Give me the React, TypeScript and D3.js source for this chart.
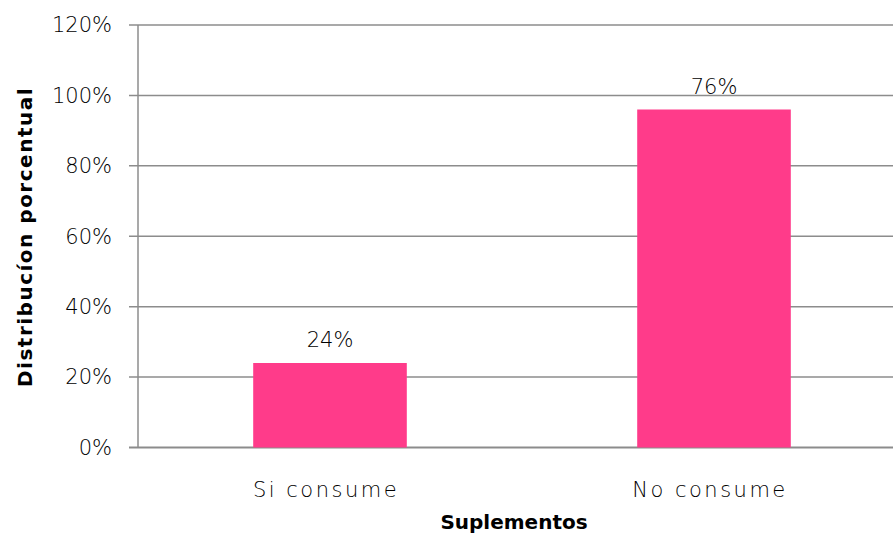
import React, { useEffect, useRef } from 'react'
import * as d3 from 'd3'

const categories = ['Si consume', 'No consume']
const barValues = [24, 96]
const barLabels = ['24%', '76%']
const yTicks = [0, 20, 40, 60, 80, 100, 120]

export default function App() {
  const svgRef = useRef<SVGSVGElement>(null)

  useEffect(() => {
    if (!svgRef.current) return
    const width = 893
    const height = 540
    const left = 138
    const top = 25
    const bottom = 447.5
    const font = "'DejaVu Sans', sans-serif"

    const svg = d3.select(svgRef.current)
    svg.selectAll('*').remove()

    const x = d3.scaleBand<string>()
      .domain(categories)
      .range([left, left + 768])
      .paddingInner(0.6)
      .paddingOuter(0.3)

    const y = d3.scaleLinear().domain([0, 120]).range([bottom, top])

    // gridlines
    svg.append('g')
      .selectAll('line')
      .data(yTicks)
      .join('line')
      .attr('x1', left - 9)
      .attr('x2', width)
      .attr('y1', d => y(d))
      .attr('y2', d => y(d))
      .attr('stroke', '#8c8c8c')
      .attr('stroke-width', d => d === 0 ? 2 : 1.5)

    svg.append('line')
      .attr('x1', left).attr('x2', left)
      .attr('y1', top).attr('y2', bottom)
      .attr('stroke', '#8c8c8c')
      .attr('stroke-width', 1.5)

    // tick labels
    svg.append('g')
      .selectAll('text')
      .data(yTicks)
      .join('text')
      .attr('x', 112)
      .attr('y', d => y(d))
      .attr('dy', '0.35em')
      .attr('text-anchor', 'end')
      .style('font-family', font)
      .style('font-weight', 200)
      .style('font-size', '21px')
      .attr('fill', '#000')
      .text(d => `${d}%`)

    // bars
    svg.append('g')
      .selectAll('rect')
      .data(barValues)
      .join('rect')
      .attr('x', (d, i) => x(categories[i])!)
      .attr('width', x.bandwidth())
      .attr('y', d => y(d))
      .attr('height', d => bottom - y(d))
      .attr('fill', '#ff3b8a')

    // value labels
    svg.append('g')
      .selectAll('text')
      .data(barValues)
      .join('text')
      .attr('x', (d, i) => x(categories[i])! + x.bandwidth() / 2)
      .attr('y', d => y(d) - 16)
      .attr('text-anchor', 'middle')
      .style('font-family', font)
      .style('font-weight', 200)
      .style('font-size', '21px')
      .attr('fill', '#000')
      .text((d, i) => barLabels[i])

    // category labels
    svg.append('g')
      .selectAll('text')
      .data(categories)
      .join('text')
      .attr('x', d => x(d)! + x.bandwidth() / 2 - 4)
      .attr('y', 497)
      .attr('text-anchor', 'middle')
      .style('font-family', font)
      .style('font-weight', 200)
      .style('font-size', '21px')
      .style('letter-spacing', '2.5px')
      .attr('fill', '#000')
      .text(d => d)

    svg.append('text')
      .attr('x', 514)
      .attr('y', 529)
      .attr('text-anchor', 'middle')
      .style('font-family', font)
      .style('font-size', '20px')
      .style('font-weight', 'bold')
      .attr('fill', '#000')
      .text('Suplementos')

    svg.append('text')
      .attr('transform', `translate(32,237) rotate(-90)`)
      .attr('text-anchor', 'middle')
      .style('font-family', font)
      .style('font-size', '20px')
      .style('font-weight', 'bold')
      .style('letter-spacing', '1.5px')
      .attr('fill', '#000')
      .text('Distribucíon porcentual')

    svg.attr('width', width).attr('height', height)
  }, [])

  return (
    <svg ref={svgRef} width={893} height={540}
      style={{ position: 'absolute', left: 0, top: 0, background: '#fff' }} />
  )
}
